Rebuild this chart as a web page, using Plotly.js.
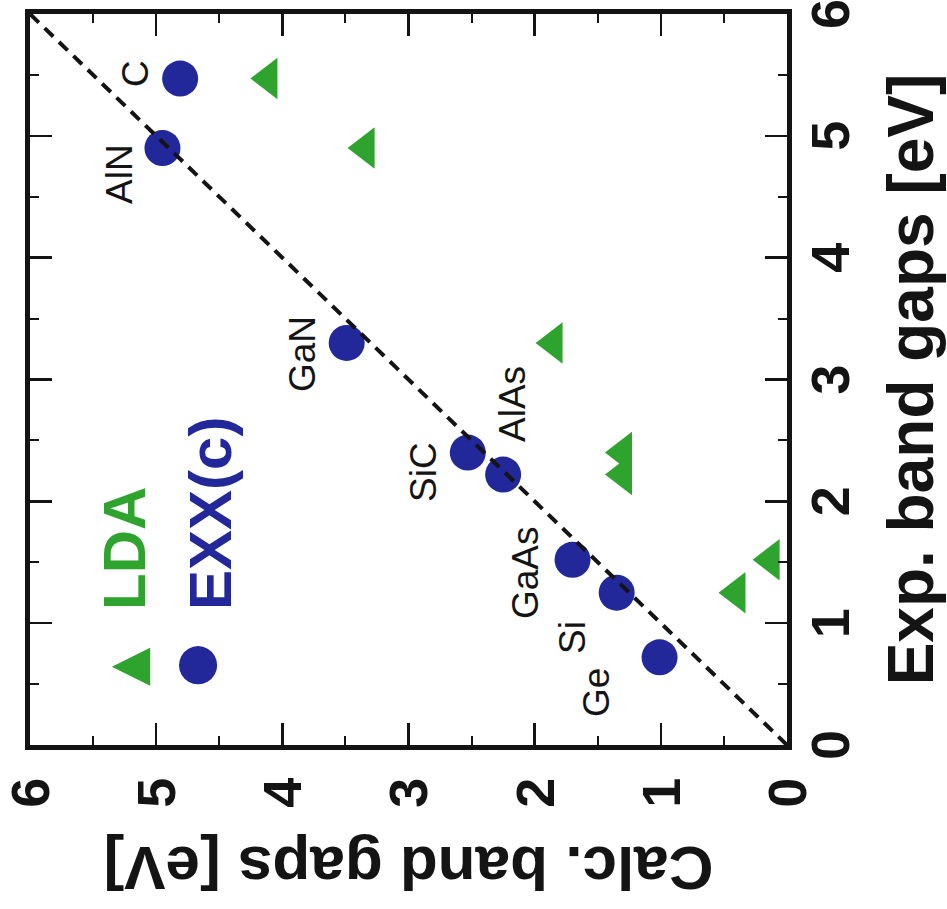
<!DOCTYPE html>
<html>
<head>
<meta charset="utf-8">
<script src="https://cdn.plot.ly/plotly-3.0.1.min.js"></script>
<style>
  html, body { margin:0; padding:0; background:#fff; overflow:hidden; width:947px; height:909px; }
  #plot { position:absolute; left:0; top:0; width:909px; height:947px;
          transform-origin:0 0; transform:translate(0px,909px) rotate(-90deg); }
</style>
</head>
<body>
<div id="plot"></div>
<script>
// ---- data ----
const materials = ['Ge', 'Si', 'GaAs', 'AlAs', 'SiC', 'GaN', 'AlN', 'C'];
const expGap    = [0.72, 1.25, 1.52, 2.22, 2.40, 3.30, 4.90, 5.47];
const exxGap    = [1.01, 1.35, 1.70, 2.25, 2.53, 3.49, 4.95, 4.81];
const ldaGap    = [-0.24, 0.40, 0.13, 1.30, 1.30, 1.85, 3.34, 4.11];
const diagLine  = [0, 6];
const tickVals  = [0, 1, 2, 3, 4, 5, 6];
const seriesNames = ['LDA', 'EXX(c)'];

// ---- styling ----
const GREEN = '#2ea32e';
const BLUE  = '#22279a';
const INK   = '#141414';
const FONT  = 'Liberation Sans, Arial, Helvetica, sans-serif';

// label offsets (pixels) relative to each EXX point
const labelShift = {
  Ge:   [-35, 63], Si:  [-45, 44], GaAs: [-13, 47], AlAs: [71, -9],
  SiC:  [-19, 44], GaN: [-11, 44], AlN:  [-26, 43], C:    [5, 45]
};

const traces = [
  { type:'scatter', mode:'markers', name:seriesNames[0], x:expGap, y:ldaGap,
    cliponaxis:false,
    marker:{ symbol:'triangle-up', size:36, color:GREEN, line:{width:0} } },
  { type:'scatter', mode:'markers', name:seriesNames[1], x:expGap, y:exxGap,
    cliponaxis:false,
    marker:{ symbol:'circle', size:36, color:BLUE, line:{width:0} } },
  { type:'scatter', mode:'lines', x:diagLine, y:diagLine, showlegend:false,
    line:{ color:INK, width:4, dash:'12px,8px' } }
];

const axisCommon = {
  range:[0, 6], tickvals:tickVals, ticktext:tickVals.map(String),
  ticks:'inside', ticklen:22, tickwidth:2.5, tickcolor:INK,
  showline:true, linewidth:5, linecolor:INK, mirror:'ticks',
  showgrid:false, zeroline:false, fixedrange:true,
  ticklabeloverflow:'allow',
  tickfont:{ family:FONT, size:54, weight:'bold', color:INK },
  minor:{ dtick:0.5, tick0:0, ticks:'inside', ticklen:9, tickwidth:2, tickcolor:INK, showgrid:false }
};

const annotations = materials.map((m, i) => ({
  x: expGap[i], y: exxGap[i], xref:'x', yref:'y', text:m, showarrow:false,
  xanchor:'center', yanchor:'middle',
  xshift: labelShift[m][0], yshift: labelShift[m][1],
  font:{ family:FONT, size:37, color:INK }
}));

// legend (symbol + coloured label)
annotations.push(
  { xref:'paper', yref:'paper', x:0.108, y:0.872, xanchor:'center', yanchor:'middle',
    text:'▲', showarrow:false, font:{ family:'DejaVu Sans', size:50, color:GREEN } },
  { xref:'paper', yref:'paper', x:0.182, y:0.875, xanchor:'left', yanchor:'middle',
    text:seriesNames[0], showarrow:false,
    font:{ family:FONT, size:60, weight:'bold', color:GREEN } },
  { xref:'paper', yref:'paper', x:0.109, y:0.783, xanchor:'center', yanchor:'middle',
    text:'●', showarrow:false, font:{ family:'DejaVu Sans', size:50, color:BLUE } },
  { xref:'paper', yref:'paper', x:0.182, y:0.761, xanchor:'left', yanchor:'middle',
    text:seriesNames[1], showarrow:false,
    font:{ family:FONT, size:60, weight:'bold', color:BLUE } }
);

const layout = {
  width:909, height:947, autosize:false,
  margin:{ l:164, r:14, t:30, b:160 },
  paper_bgcolor:'#fff', plot_bgcolor:'#fff',
  showlegend:false,
  xaxis: Object.assign({}, axisCommon, {
    ticklabelstandoff: -8,
    title:{ text:'Exp. band gaps [eV]', standoff: 32,
            font:{ family:FONT, size:64, weight:'bold', color:INK } }
  }),
  yaxis: Object.assign({}, axisCommon, {
    ticklabelstandoff: 17,
    title:{ text:'Calc. band gaps [eV]', standoff: 20,
            font:{ family:FONT, size:62, weight:'bold', color:INK } }
  }),
  annotations: annotations
};

Plotly.newPlot('plot', traces, layout, { displayModeBar:false, staticPlot:true });
</script>
</body>
</html>
